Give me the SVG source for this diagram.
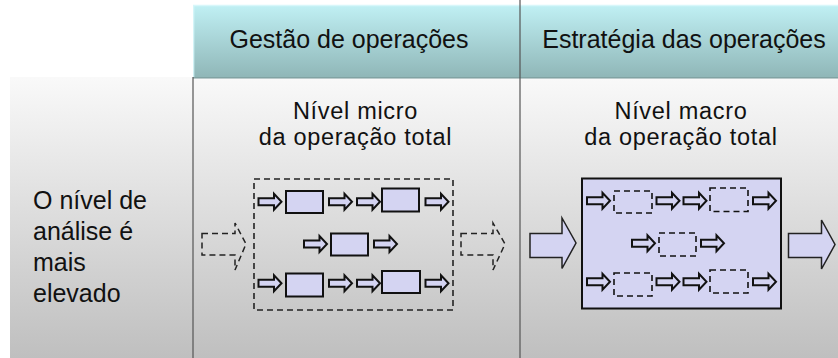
<svg xmlns="http://www.w3.org/2000/svg" width="838" height="358" viewBox="0 0 838 358">
  <defs>
    <linearGradient id="hdr" x1="0" y1="5" x2="0" y2="78" gradientUnits="userSpaceOnUse">
      <stop offset="0" stop-color="#c0f0f4"/>
      <stop offset="1" stop-color="#8fb6b7"/>
    </linearGradient>
    <linearGradient id="body" x1="0" y1="78" x2="0" y2="358" gradientUnits="userSpaceOnUse">
      <stop offset="0" stop-color="#f9f9f9"/>
      <stop offset="1" stop-color="#bfbfbf"/>
    </linearGradient>
    <path id="sa" d="M0,-3.5 H15.5 V-8 L23,0 L15.5,8 V3.5 H0 Z" class="sarrow"/>
    <style>
      .t { font-family: "Liberation Sans", Arial, sans-serif; font-size: 25px; fill: #111; }
      .tt { font-family: "Liberation Sans", Arial, sans-serif; font-size: 23.5px; letter-spacing: 0.7px; fill: #111; }
      .mid { text-anchor: middle; }
      .sarrow { fill: #d4d4f2; stroke: #111; stroke-width: 2; stroke-linejoin: miter; }
      .box { fill: #d4d4f2; stroke: #111; stroke-width: 2; }
      .dbox { fill: none; stroke: #111; stroke-width: 1.6; stroke-dasharray: 6 4; }
      .dframe { fill: none; stroke: #222; stroke-width: 1.6; stroke-dasharray: 6 4; }
      .bigarrow { fill: #d4d4f2; stroke: #222; stroke-width: 1.5; }
      .dbigarrow { fill: none; stroke: #222; stroke-width: 1.5; stroke-dasharray: 6 4; }
      .grid { stroke: #555; stroke-width: 1.2; }
    </style>
  </defs>

  <rect width="838" height="358" fill="#ffffff"/>

  <g id="table">
    <rect x="10" y="77" width="828" height="281" fill="url(#body)"/>
    <g id="header-gestao">
      <rect x="193" y="5" width="327" height="73" fill="url(#hdr)"/>
      <text class="t mid" x="349" y="47.5">Gestão de operações</text>
    </g>
    <g id="header-estrategia">
      <rect x="520" y="5" width="318" height="73" fill="url(#hdr)"/>
      <text class="t mid" x="684" y="47.5">Estratégia das operações</text>
    </g>
    <line x1="193" y1="5.5" x2="838" y2="5.5" stroke="#d8f7fa" stroke-width="1.5"/>
    <line x1="193.7" y1="5" x2="193.7" y2="78" stroke="#d8f7fa" stroke-width="1.2"/>
    <line x1="193" y1="77.8" x2="838" y2="77.8" stroke="#7d9c9d" stroke-width="1.2"/>
    <line class="grid" x1="193" y1="77" x2="193" y2="358"/>
    <line class="grid" x1="520" y1="0" x2="520" y2="358"/>
  </g>

  <g id="row-label">
    <text class="t" x="33" y="209">O nível de</text>
    <text class="t" x="33" y="240">análise é</text>
    <text class="t" x="33" y="271">mais</text>
    <text class="t" x="33" y="302">elevado</text>
  </g>

  <g id="micro-title">
    <text class="tt mid" x="355.5" y="119">Nível micro</text>
    <text class="tt mid" x="355.5" y="144.5">da operação total</text>
  </g>
  <g id="macro-title">
    <text class="tt mid" x="681" y="119">Nível macro</text>
    <text class="tt mid" x="681" y="144.5">da operação total</text>
  </g>

  <g id="micro-operation">
    <rect class="dframe" x="254" y="179" width="199" height="131"/>
    <rect class="box" x="286" y="191" width="37" height="22"/>
    <rect class="box" x="382" y="188.5" width="37" height="23"/>
    <rect class="box" x="331" y="233.5" width="37" height="22"/>
    <rect class="box" x="286" y="273.5" width="37" height="23"/>
    <rect class="box" x="382" y="271" width="38" height="22"/>
  </g>

  <g id="macro-operation">
    <rect x="582" y="178.5" width="199" height="130" fill="#d4d4f2" stroke="#111" stroke-width="2"/>
    <rect class="dbox" x="614" y="191" width="38" height="22"/>
    <rect class="dbox" x="710" y="188" width="38" height="23.5"/>
    <rect class="dbox" x="659" y="233" width="37" height="23"/>
    <rect class="dbox" x="614" y="273" width="38" height="23"/>
    <rect class="dbox" x="710" y="270" width="38" height="23"/>
  </g>

  <g id="connectors">
    <path class="dbigarrow" d="M202,233.5 H235 V223 L246,244 L235,270 V255 H202 Z"/>
    <path class="dbigarrow" d="M461,233.5 H493 V223 L505,244 L493,270 V255 H461 Z"/>
    <path class="bigarrow" d="M530,233.5 H562 V218 L576,243 L562,268.5 V257.5 H530 Z"/>
    <path class="bigarrow" d="M788.5,233.5 H821.5 V220 L835,244.5 L821.5,269 V257.5 H788.5 Z"/>

    <use href="#sa" x="258.5" y="201.7"/>
    <use href="#sa" x="329" y="201.7"/>
    <use href="#sa" x="357" y="201.7"/>
    <use href="#sa" x="425.5" y="201.7"/>
    <use href="#sa" x="304" y="244"/>
    <use href="#sa" x="374" y="244"/>
    <use href="#sa" x="258.5" y="283.3"/>
    <use href="#sa" x="329" y="283.3"/>
    <use href="#sa" x="357" y="283.3"/>
    <use href="#sa" x="425.5" y="283.3"/>

    <use href="#sa" x="587" y="200.7"/>
    <use href="#sa" x="656.5" y="200.7"/>
    <use href="#sa" x="683.5" y="200.7"/>
    <use href="#sa" x="753" y="200.7"/>
    <use href="#sa" x="632" y="243.3"/>
    <use href="#sa" x="701" y="243.3"/>
    <use href="#sa" x="587" y="281.7"/>
    <use href="#sa" x="656.5" y="281.7"/>
    <use href="#sa" x="683.5" y="281.7"/>
    <use href="#sa" x="753" y="281.7"/>
  </g>
</svg>
